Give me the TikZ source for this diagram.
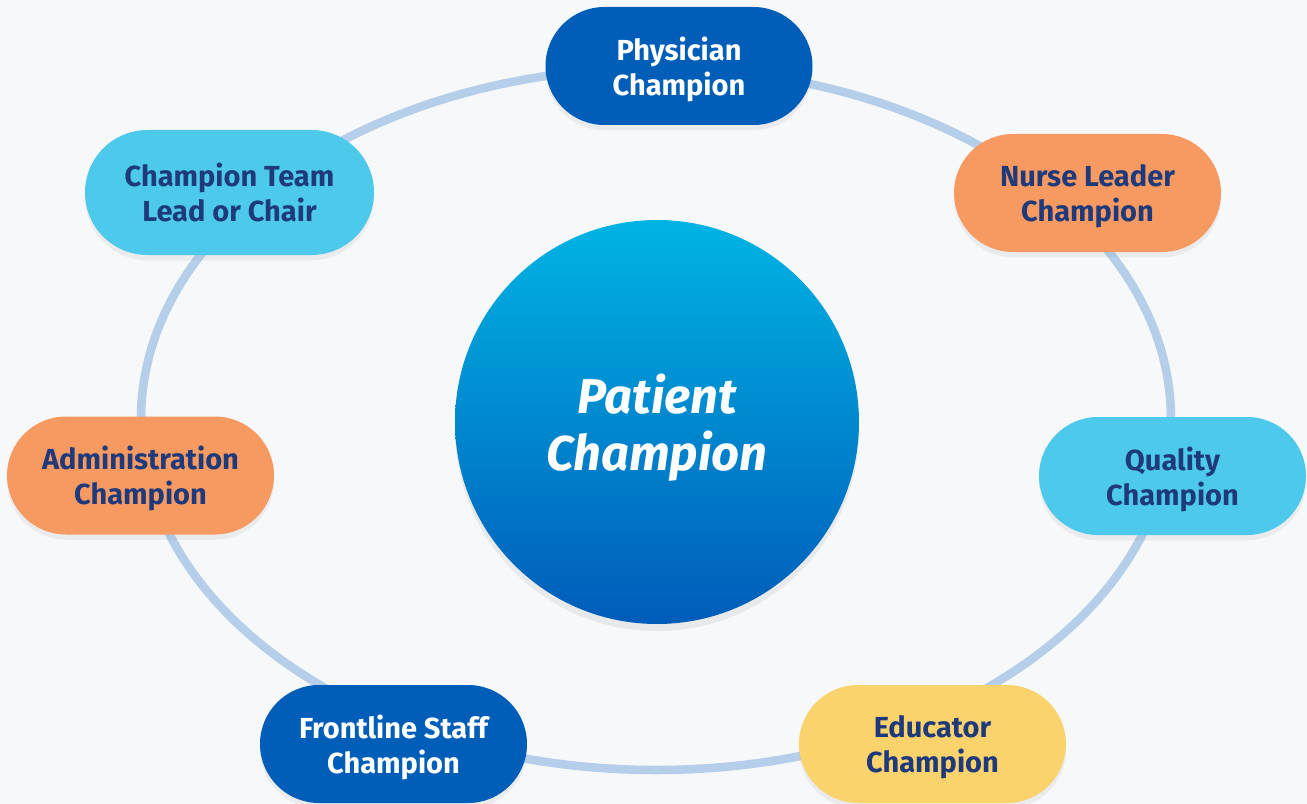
\documentclass[tikz,border=0pt]{standalone}
\usepackage{fontspec}
\setmainfont{Fira Sans}
\usetikzlibrary{positioning,shapes,shadows,backgrounds}
\definecolor{bgpage}{HTML}{F7F8FA}
\definecolor{ringblue}{HTML}{B5CEEA}
\definecolor{deepblue}{HTML}{005EB8}
\definecolor{skyblue}{HTML}{4CC9EB}
\definecolor{peach}{HTML}{F79A62}
\definecolor{sunny}{HTML}{FBD36C}
\definecolor{navytext}{HTML}{1E3A7B}
\definecolor{hubtop}{HTML}{00B4E4}
\definecolor{hubbot}{HTML}{005CB9}

\begin{document}
\begin{tikzpicture}[
    pill/.style={rectangle,rounded corners=1.18cm,minimum width=5.34cm,minimum height=2.36cm,align=center,
      font=\fontsize{16.5}{19.8}\selectfont\bfseries,text depth=-0.16cm,
      drop shadow={opacity=0.10,shadow xshift=0pt,shadow yshift=-3pt}},
    darkpill/.style={pill,fill=deepblue,text=white},
    lightpill/.style={pill,fill=skyblue,text=navytext},
    orangepill/.style={pill,fill=peach,text=navytext},
    yellowpill/.style={pill,fill=sunny,text=navytext},
    ring/.style={draw=ringblue,line width=0.17cm}
  ]
    % page and margins
    \fill[bgpage] (0,0) rectangle (26.14,-16.08);
    \useasboundingbox (0,0) rectangle (26.14,-16.08);

    % Ring behind the roles
    \coordinate (orbit) at (13.12,-8.38);
    \draw[ring] (orbit) ellipse [x radius=10.3cm,y radius=7.02cm];

    % Centre: patient
    \node[circle,minimum size=8.08cm,top color=hubtop,bottom color=hubbot,draw=none,text=white,align=center,
      font=\fontsize{27.8}{32.4}\selectfont\bfseries\itshape,text depth=-0.1cm,
      drop shadow={opacity=0.12,shadow xshift=0pt,shadow yshift=-4pt}] (hub) at (13.14,-8.44) {Patient\\Champion};

    % Roles round the ring
    \node[darkpill] (phys) at (13.58,-1.32) {Physician\\Champion};
    \node[orangepill] (nurse) at (21.75,-3.86) {Nurse Leader\\Champion};
    \node[lightpill] (qual) at (23.45,-9.52) {Quality\\Champion};
    \node[yellowpill] (edu) at (18.65,-14.88) {Educator\\Champion};
    \node[darkpill] (front) at (7.87,-14.88) {Frontline Staff\\Champion};
    \node[orangepill] (admin) at (2.81,-9.51) {Administration\\Champion};
    \node[lightpill,minimum width=5.78cm,minimum height=2.5cm,rounded corners=1.25cm] (lead) at (4.59,-3.85) {Champion Team\\Lead or Chair};
  \end{tikzpicture}
\end{document}
